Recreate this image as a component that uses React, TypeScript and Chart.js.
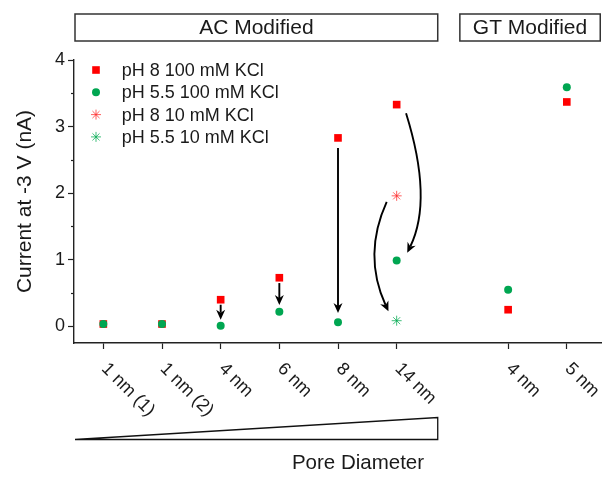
import React, { useEffect, useRef } from 'react';
import { Chart, registerables } from 'chart.js';

Chart.register(...registerables);

// ---- data ----
const categories = ['1 nm (1)', '1 nm (2)', '4 nm', '6 nm', '8 nm', '14 nm', '4 nm', '5 nm'];
const categoryX = [1, 2, 3, 4, 5, 6, 7.9, 8.9];
const ph8_100mM = [0.035, 0.035, 0.40, 0.73, 2.83, 3.33, 0.25, 3.37];
const ph55_100mM = [0.035, 0.035, 0.01, 0.22, 0.06, 0.99, 0.55, 3.59];
const ph8_10mM = [null, null, null, null, null, 1.96, null, null];
const ph55_10mM = [null, null, null, null, null, 0.085, null, null];
const seriesNames = ['pH 8 100 mM KCl', 'pH 5.5 100 mM KCl', 'pH 8 10 mM KCl', 'pH 5.5 10 mM KCl'];
const yTicks = [0, 1, 2, 3, 4];
const yMinorTicks = [0.5, 1.5, 2.5, 3.5];
const groupLabels = ['AC Modified', 'GT Modified'];
const groupRanges = [[0.5, 6.7], [7.06, 9.47]];
const yTitle = 'Current at -3 V (nA)';
const xTitle = 'Pore Diameter';

// annotation arrows in data coordinates
const straightArrows = [
  { x: 3, from: 0.325, to: 0.1 },
  { x: 4, from: 0.65, to: 0.32 },
  { x: 5, from: 2.68, to: 0.2 },
];
const curvedArrows = [
  { from: [6.16, 3.2], ctrl: [6.62, 1.9], to: [6.18, 1.105] },
  { from: [5.83, 1.87], ctrl: [5.42, 1.075], to: [5.86, 0.225] },
];

const FONT = '"Liberation Sans", Arial, Helvetica, sans-serif';
const RED = '#ff0000';
const GREEN = '#00a651';
const RED_STAR = 'rgba(255,40,40,0.75)';
const GREEN_STAR = 'rgba(0,170,80,0.75)';
const TEXT = '#1a1a1a';

function toPoints(vals: (number | null)[]) {
  const out: { x: number; y: number }[] = [];
  vals.forEach((v, i) => {
    if (v !== null) out.push({ x: categoryX[i], y: v });
  });
  return out;
}

function arrowHead(ctx: CanvasRenderingContext2D, tx: number, ty: number, ang: number) {
  const len = 10;
  const hw = 4.5;
  const notch = 3;
  ctx.save();
  ctx.translate(tx, ty);
  ctx.rotate(ang);
  ctx.beginPath();
  ctx.moveTo(0, 0);
  ctx.lineTo(-len, -hw);
  ctx.lineTo(-len + notch, 0);
  ctx.lineTo(-len, hw);
  ctx.closePath();
  ctx.fillStyle = '#000';
  ctx.fill();
  ctx.restore();
}

function drawStar(ctx: CanvasRenderingContext2D, x: number, y: number, r: number, color: string) {
  ctx.save();
  ctx.strokeStyle = color;
  ctx.lineWidth = 1;
  ctx.beginPath();
  for (let k = 0; k < 4; k++) {
    const a = (k * Math.PI) / 4;
    ctx.moveTo(x - r * Math.cos(a), y - r * Math.sin(a));
    ctx.lineTo(x + r * Math.cos(a), y + r * Math.sin(a));
  }
  ctx.stroke();
  ctx.restore();
}

const decorPlugin = {
  id: 'decor',
  afterDraw(chart: any) {
    const ctx: CanvasRenderingContext2D = chart.ctx;
    const xs = chart.scales.x;
    const ys = chart.scales.y;
    const area = chart.chartArea;
    ctx.save();

    // minor y ticks
    ctx.strokeStyle = '#222';
    ctx.lineWidth = 1.2;
    yMinorTicks.forEach((v) => {
      const py = Math.round(ys.getPixelForValue(v)) + 0.5;
      ctx.beginPath();
      ctx.moveTo(area.left - 3, py);
      ctx.lineTo(area.left, py);
      ctx.stroke();
    });

    // rotated x tick labels
    ctx.fillStyle = TEXT;
    ctx.font = `18px ${FONT}`;
    ctx.textAlign = 'left';
    ctx.textBaseline = 'middle';
    categories.forEach((lab, i) => {
      const px = xs.getPixelForValue(categoryX[i]);
      ctx.save();
      ctx.translate(px + 1, area.bottom + 23);
      ctx.rotate(Math.PI / 4);
      ctx.fillText(lab, 0, 0);
      ctx.restore();
    });

    // group boxes
    ctx.strokeStyle = '#333';
    ctx.lineWidth = 1.5;
    ctx.font = `21px ${FONT}`;
    ctx.textAlign = 'center';
    ctx.textBaseline = 'middle';
    groupLabels.forEach((lab, i) => {
      const x0 = xs.getPixelForValue(groupRanges[i][0]) + 1;
      const x1 = xs.getPixelForValue(groupRanges[i][1]);
      const y0 = area.top - 46;
      const y1 = area.top - 19;
      ctx.fillStyle = '#fff';
      ctx.fillRect(x0, y0, x1 - x0, y1 - y0);
      ctx.strokeRect(x0, y0, x1 - x0, y1 - y0);
      ctx.fillStyle = TEXT;
      ctx.fillText(lab, (x0 + x1) / 2, (y0 + y1) / 2 + 1);
    });

    // wedge
    const wx0 = xs.getPixelForValue(groupRanges[0][0]) + 1;
    const wx1 = xs.getPixelForValue(groupRanges[0][1]);
    const wb = area.bottom + 96.5;
    ctx.strokeStyle = '#111';
    ctx.lineWidth = 1.3;
    ctx.beginPath();
    ctx.moveTo(wx0, wb);
    ctx.lineTo(wx1, wb - 22);
    ctx.lineTo(wx1, wb);
    ctx.closePath();
    ctx.stroke();

    // x title
    ctx.fillStyle = TEXT;
    ctx.font = `20.5px ${FONT}`;
    ctx.textAlign = 'center';
    ctx.textBaseline = 'middle';
    ctx.fillText(xTitle, 358, area.bottom + 120);

    // legend
    const lx = area.left + 22;
    const ly0 = area.top + 10;
    const dy = 22.3;
    ctx.font = `18px ${FONT}`;
    ctx.textAlign = 'left';
    ctx.textBaseline = 'middle';
    seriesNames.forEach((name, i) => {
      const y = ly0 + i * dy;
      if (i === 0) {
        ctx.fillStyle = RED;
        ctx.fillRect(lx - 3.8, y - 3.8, 7.6, 7.6);
      } else if (i === 1) {
        ctx.fillStyle = GREEN;
        ctx.beginPath();
        ctx.arc(lx, y, 4, 0, Math.PI * 2);
        ctx.fill();
      } else {
        drawStar(ctx, lx, y, 5, i === 2 ? RED_STAR : GREEN_STAR);
      }
      ctx.fillStyle = TEXT;
      ctx.fillText(name, lx + 25.7, y + 1);
    });

    // arrows
    ctx.strokeStyle = '#000';
    ctx.lineWidth = 1.9;
    straightArrows.forEach((a) => {
      const px = xs.getPixelForValue(a.x);
      const y0 = ys.getPixelForValue(a.from);
      const y1 = ys.getPixelForValue(a.to);
      ctx.beginPath();
      ctx.moveTo(px, y0);
      ctx.lineTo(px, y1 - 7);
      ctx.stroke();
      arrowHead(ctx, px, y1, Math.PI / 2);
    });
    curvedArrows.forEach((a) => {
      const p0 = [xs.getPixelForValue(a.from[0]), ys.getPixelForValue(a.from[1])];
      const c = [xs.getPixelForValue(a.ctrl[0]), ys.getPixelForValue(a.ctrl[1])];
      const p1 = [xs.getPixelForValue(a.to[0]), ys.getPixelForValue(a.to[1])];
      const ang = Math.atan2(p1[1] - c[1], p1[0] - c[0]);
      const ex = p1[0] - 7 * Math.cos(ang);
      const ey = p1[1] - 7 * Math.sin(ang);
      ctx.beginPath();
      ctx.moveTo(p0[0], p0[1]);
      ctx.quadraticCurveTo(c[0], c[1], ex, ey);
      ctx.stroke();
      arrowHead(ctx, p1[0], p1[1], ang);
    });

    ctx.restore();
  },
};

export default function App() {
  const ref = useRef<HTMLCanvasElement | null>(null);
  useEffect(() => {
    document.body.style.margin = '0';
    const canvas = ref.current;
    if (!canvas) return;
    const chart = new Chart(canvas, {
      type: 'scatter',
      data: {
        datasets: [
          {
            label: seriesNames[0],
            data: toPoints(ph8_100mM),
            pointStyle: 'rect',
            pointRadius: 5.4,
            pointBackgroundColor: RED,
            pointBorderWidth: 0,
            borderWidth: 0,
            order: 3,
          },
          {
            label: seriesNames[1],
            data: toPoints(ph55_100mM),
            pointStyle: 'circle',
            pointRadius: 4,
            pointBackgroundColor: GREEN,
            pointBorderWidth: 0,
            borderWidth: 0,
            order: 2,
          },
          {
            label: seriesNames[2],
            data: toPoints(ph8_10mM),
            pointStyle: 'star',
            pointRadius: 5,
            pointBorderColor: RED_STAR,
            pointBorderWidth: 1,
            order: 1,
          },
          {
            label: seriesNames[3],
            data: toPoints(ph55_10mM),
            pointStyle: 'star',
            pointRadius: 5,
            pointBorderColor: GREEN_STAR,
            pointBorderWidth: 1,
            order: 0,
          },
        ],
      },
      options: {
        animation: false,
        responsive: false,
        devicePixelRatio: 1,
        layout: { autoPadding: false, padding: { top: 60, right: 0, left: 0, bottom: 0 } },
        plugins: { legend: { display: false }, tooltip: { enabled: false } },
        events: [],
        scales: {
          x: {
            type: 'linear',
            min: 0.5,
            max: 9.5,
            afterBuildTicks: (s: any) => {
              s.ticks = categoryX.map((v) => ({ value: v }));
            },
            afterFit: (s: any) => {
              s.height = 136;
            },
            ticks: { display: false },
            grid: { drawOnChartArea: false, drawTicks: true, tickLength: 6, tickColor: '#222', tickWidth: 1.2 },
            border: { display: true, color: '#222', width: 1.4 },
          },
          y: {
            type: 'linear',
            min: -0.25,
            max: 4,
            afterBuildTicks: (s: any) => {
              s.ticks = yTicks.map((v) => ({ value: v }));
            },
            afterFit: (s: any) => {
              s.width = 74;
            },
            ticks: {
              color: TEXT,
              font: { family: FONT, size: 18 },
              padding: 3,
              callback: (v: any) => String(v),
            },
            grid: { drawOnChartArea: false, drawTicks: true, tickLength: 6, tickColor: '#222', tickWidth: 1.2 },
            border: { display: true, color: '#222', width: 1.4 },
            title: {
              display: true,
              text: yTitle,
              color: TEXT,
              font: { family: FONT, size: 21 },
              padding: { top: 13, bottom: 0 },
            },
          },
        },
      },
      plugins: [decorPlugin],
    } as any);
    return () => chart.destroy();
  }, []);
  return (
    <div style={{ position: 'fixed', left: 0, top: 0, width: 602, height: 479, background: '#fff' }}>
      <canvas ref={ref} width={602} height={479} style={{ display: 'block', width: 602, height: 479 }} />
    </div>
  );
}
